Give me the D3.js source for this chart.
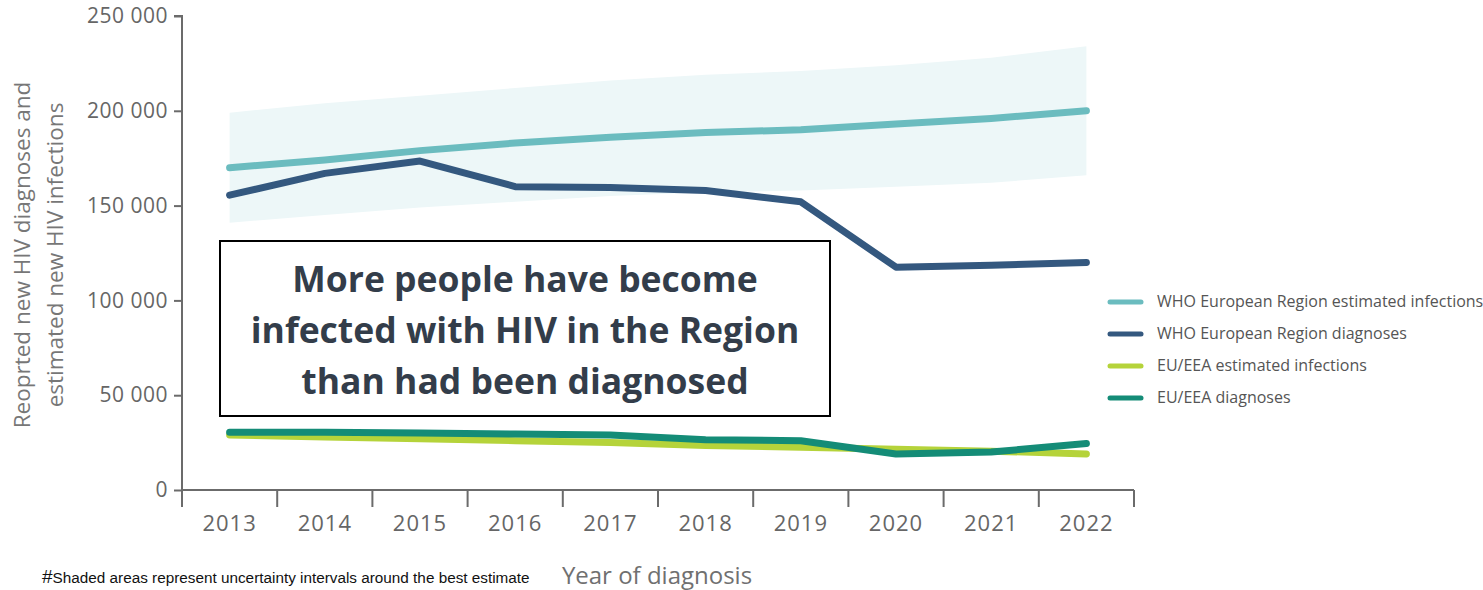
<!DOCTYPE html>
<html>
<head>
<meta charset="utf-8">
<script src="https://cdn.jsdelivr.net/npm/d3@7"></script>
<style>
    body { margin: 0; background: #ffffff; }
    svg { display: block; }
</style>
</head>
<body>
<svg id="chart"></svg>
<script>
// Chart data
const years = ['2013', '2014', '2015', '2016', '2017', '2018', '2019', '2020', '2021', '2022'];
const whoEstimated = [170000, 174000, 179000, 183000, 186000, 188500, 190000, 193000, 196000, 200000];
const whoUpper = [199000, 204000, 208000, 212000, 216000, 219000, 221000, 224000, 228000, 234000];
const whoLower = [141000, 145000, 149000, 152000, 155000, 157000, 158000, 160000, 162000, 166000];
const whoDiagnoses = [155500, 167000, 173500, 160000, 159500, 158000, 152000, 117500, 118500, 120000];
const euEstimated = [29000, 28000, 27000, 26000, 25000, 23500, 22500, 21500, 20500, 19000];
const euDiagnoses = [30500, 30500, 30000, 29500, 29000, 26500, 26000, 19000, 20000, 24500];
const yTicks = [0, 50000, 100000, 150000, 200000, 250000];
const legendLabels = [
    'WHO European Region estimated infections',
    'WHO European Region diagnoses',
    'EU/EEA estimated infections',
    'EU/EEA diagnoses'
];
const annotationLines = [
    'More people have become',
    'infected with HIV in the Region',
    'than had been diagnosed'
];

const WIDTH = 1483;
const HEIGHT = 590;
const AXIS_COLOR = '#6b6b6b';
const FONT = '"Open Sans", "Noto Sans", sans-serif';

const svg = d3.select('#chart')
    .attr('width', WIDTH)
    .attr('height', HEIGHT);

const x = d3.scaleBand()
    .domain(years)
    .range([182, 1134]);

const y = d3.scaleLinear()
    .domain([0, 250000])
    .range([490, 16]);

const cx = d => x(d) + x.bandwidth() / 2;

// Uncertainty band around the WHO estimate
const band = d3.area()
    .x((d, i) => cx(years[i]))
    .y0((d, i) => y(whoLower[i]))
    .y1(d => y(d));

svg.append('path')
    .datum(whoUpper)
    .attr('d', band)
    .attr('fill', '#edf7f8');

// Axes
const yAxis = svg.append('g')
    .attr('transform', 'translate(182,0)')
    .call(d3.axisLeft(y)
        .tickValues(yTicks)
        .tickSize(8)
        .tickPadding(6)
        .tickFormat(d => d3.format(',')(d).replace(/,/g, ' ')));

const xAxis = svg.append('g')
    .attr('transform', 'translate(0,490)')
    .call(d3.axisBottom(x).tickSize(0).tickPadding(25));

// Band boundary ticks on the x axis (between years)
xAxis.selectAll('.edge')
    .data(years.concat(['end']))
    .enter()
    .append('line')
    .attr('class', 'edge')
    .attr('x1', (d, i) => i < years.length ? x(d) : x.range()[1])
    .attr('x2', (d, i) => i < years.length ? x(d) : x.range()[1])
    .attr('y1', 0)
    .attr('y2', 17)
    .attr('stroke', AXIS_COLOR)
    .attr('stroke-width', 2);

[yAxis, xAxis].forEach(axis => {
    axis.select('.domain')
        .attr('stroke', AXIS_COLOR)
        .attr('stroke-width', 2);
    axis.selectAll('.tick line')
        .attr('stroke', AXIS_COLOR)
        .attr('stroke-width', 2);
    axis.selectAll('.tick text')
        .attr('fill', '#666666')
        .attr('font-family', FONT)
        .attr('font-size', '21px');
});
yAxis.select('.domain').attr('d', 'M0,490V16h-8');
yAxis.selectAll('.tick text').attr('letter-spacing', '0.5px');
xAxis.select('.domain').attr('d', 'M182,0H1134');
xAxis.selectAll('.tick text').attr('font-size', '22px').attr('letter-spacing', '1px');

// Series lines
const line = d3.line()
    .x((d, i) => cx(years[i]))
    .y(d => y(d));

const series = [
    {values: euEstimated, color: '#b5d33a'},
    {values: euDiagnoses, color: '#148c77'},
    {values: whoEstimated, color: '#6bbcbf'},
    {values: whoDiagnoses, color: '#34587f'}
];

series.forEach(s => {
    svg.append('path')
        .datum(s.values)
        .attr('d', line)
        .attr('fill', 'none')
        .attr('stroke', s.color)
        .attr('stroke-width', 7)
        .attr('stroke-linecap', 'round')
        .attr('stroke-linejoin', 'round');
});

// Axis titles
const yTitle = svg.append('text')
    .attr('transform', 'translate(0,255) rotate(-90)')
    .attr('text-anchor', 'middle')
    .attr('fill', '#777777')
    .attr('font-family', FONT)
    .attr('font-size', '22.5px');

yTitle.append('tspan').attr('x', 0).attr('y', 30).text('Reoprted new HIV diagnoses and');
yTitle.append('tspan').attr('x', 0).attr('y', 63).text('estimated new HIV infections');

svg.append('text')
    .attr('x', 657)
    .attr('y', 584)
    .attr('text-anchor', 'middle')
    .attr('fill', '#707070')
    .attr('font-family', FONT)
    .attr('font-size', '24px')
    .text('Year of diagnosis');

// Footnote
const note = svg.append('text')
    .attr('x', 42)
    .attr('y', 583)
    .attr('fill', '#111111')
    .attr('font-family', 'Arial, "Liberation Sans", sans-serif')
    .attr('font-size', '15.3px');

note.append('tspan').attr('font-size', '19px').text('#');
note.append('tspan').text('Shaded areas represent uncertainty intervals around the best estimate');

// Legend
const legendColors = ['#6bbcbf', '#34587f', '#b5d33a', '#148c77'];
const legend = svg.append('g')
    .attr('transform', 'translate(1110,302)');

legendLabels.forEach((label, i) => {
    const row = legend.append('g')
        .attr('transform', `translate(0, ${i * 32})`);

    row.append('line')
        .attr('x1', 0)
        .attr('x2', 31)
        .attr('stroke', legendColors[i])
        .attr('stroke-width', 5)
        .attr('stroke-linecap', 'round');

    row.append('text')
        .attr('x', 47)
        .attr('y', 5)
        .attr('fill', '#555555')
        .attr('font-family', FONT)
        .attr('font-size', '16px')
        .text(label);
});

// Annotation box
const box = svg.append('g');

box.append('rect')
    .attr('x', 220)
    .attr('y', 241)
    .attr('width', 610)
    .attr('height', 175)
    .attr('fill', '#ffffff')
    .attr('stroke', '#000000')
    .attr('stroke-width', 2);

annotationLines.forEach((t, i) => {
    box.append('text')
        .attr('x', 525)
        .attr('y', 292 + i * 51)
        .attr('text-anchor', 'middle')
        .attr('fill', '#333d4a')
        .attr('font-family', FONT)
        .attr('font-weight', 'bold')
        .attr('font-size', '35.5px')
        .text(t);
});
</script>
</body>
</html>
